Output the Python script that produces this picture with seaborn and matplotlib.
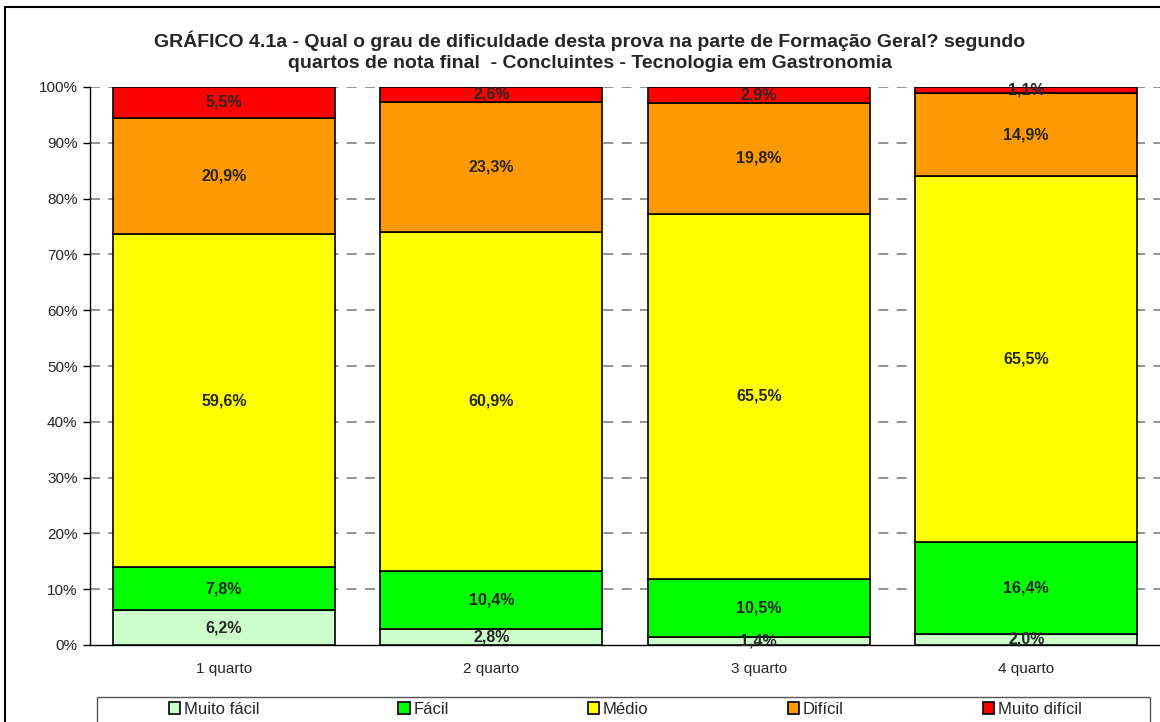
import matplotlib
matplotlib.use("Agg")
import matplotlib.pyplot as plt
from matplotlib.patches import Rectangle
import seaborn as sns
import numpy as np

categories = ["1 quarto", "2 quarto", "3 quarto", "4 quarto"]
series_names = ["Muito fácil", "Fácil", "Médio", "Difícil", "Muito difícil"]
muito_facil = [6.2, 2.8, 1.4, 2.0]
facil = [7.8, 10.4, 10.5, 16.4]
medio = [59.6, 60.9, 65.5, 65.5]
dificil = [20.9, 23.3, 19.8, 14.9]
muito_dificil = [5.5, 2.6, 2.9, 1.1]
colors = ["#CCFFCC", "#00FF00", "#FFFF00", "#FF9900", "#FF0000"]
title = ("GRÁFICO 4.1a - Qual o grau de dificuldade desta prova na parte de Formação Geral? segundo\n"
         "quartos de nota final  - Concluintes - Tecnologia em Gastronomia")

sns.set_style("white")
plt.rcParams["font.family"] = ["Liberation Sans", "DejaVu Sans"]

raw = np.array([muito_facil, facil, medio, dificil, muito_dificil], dtype=float)
data = raw / raw.sum(axis=0) * 100.0

fig = plt.figure(figsize=(11.6, 7.22), dpi=100)
ax = fig.add_axes([90/1160, 1-645/722, 1070/1160, (645-87)/722])

bottom = np.zeros(len(categories))
for name, vals, rvals, col in zip(series_names, data, raw, colors):
    sns.barplot(x=categories, y=vals, bottom=bottom, color=col, width=0.83,
                edgecolor="black", linewidth=1.2, ax=ax, zorder=3, saturation=1)
    for i, (v, b, r) in enumerate(zip(vals, bottom, rvals)):
        ax.text(i, b + v/2, f"{r:.1f}%".replace(".", ","), ha="center", va="center",
                fontsize=11.5, fontweight="bold", zorder=5)
    bottom = bottom + vals

ax.set_ylim(0, 100)
ax.set_xlim(-0.5, 3.5)
ax.set_yticks(np.arange(0, 101, 10))
ax.set_yticklabels([f"{t}%" for t in range(0, 101, 10)], fontsize=11)
for y in range(10, 101, 10):
    ax.axhline(y, color="#808080", linestyle=(0, (6, 5)), linewidth=1.2, zorder=1)
ax.set_xticks(range(4))
ax.set_xticklabels(categories, fontsize=11)
ax.set_xticks([0.5, 1.5, 2.5], minor=True)
ax.tick_params(axis="x", which="major", length=0, pad=12)
ax.tick_params(axis="x", which="minor", length=6, width=1, direction="out", color="black")
ax.tick_params(axis="y", length=5, width=1, direction="out", color="black", pad=4, left=True)
ax.set_xlabel("")
ax.set_ylabel("")
for s in ["top", "right"]:
    ax.spines[s].set_visible(False)
for s in ["left", "bottom"]:
    ax.spines[s].set_color("black")
    ax.spines[s].set_linewidth(1)

fig.text(590/1160, 1-51.5/722, title, ha="center", va="center", fontsize=14,
         fontweight="bold", linespacing=1.3)

# legend frame box
fig.patches.append(Rectangle((97/1160, -0.05), 1053/1160, 1 - 697/722 + 0.05,
                             transform=fig.transFigure, fill=False, edgecolor="#555555",
                             linewidth=1, zorder=1))
handles = [Rectangle((0, 0), 1, 1, facecolor=c, edgecolor="black", linewidth=1.2) for c in colors]
leg = fig.legend(handles, series_names, loc="center", ncol=5,
                 bbox_to_anchor=(625/1160, 1-709/722),
                 fontsize=12, frameon=False, handlelength=0.7, handleheight=0.7,
                 handletextpad=0.2, columnspacing=8.35, borderaxespad=0, borderpad=0)

fig.patches.append(Rectangle((5/1160, -0.05), 1.2, 1 - 7/722 + 0.05, transform=fig.transFigure,
                             fill=False, edgecolor="black", linewidth=1.5, zorder=0))

fig.savefig("out.png", dpi=100)
